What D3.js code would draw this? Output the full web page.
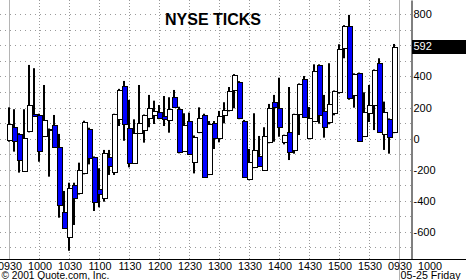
<!DOCTYPE html>
<html><head><meta charset="utf-8">
<script src="https://cdn.jsdelivr.net/npm/d3@7"></script>
<style>
html,body{margin:0;padding:0;background:#fff;}
svg{display:block;font-family:"Liberation Sans",Arial,sans-serif;}
</style></head><body>
<svg id="c" width="466" height="280"></svg>
<script>
const title = "NYSE TICKS";
const times = ["0930","0935","0940","0945","0950","0955","1000","1005","1010","1015","1020","1025","1030","1035","1040","1045","1050","1055","1100","1105","1110","1115","1120","1125","1130","1135","1140","1145","1150","1155","1200","1205","1210","1215","1220","1225","1230","1235","1240","1245","1250","1255","1300","1305","1310","1315","1320","1325","1330","1335","1340","1345","1350","1355","1400","1405","1410","1415","1420","1425","1430","1435","1440","1445","1450","1455","1500","1505","1510","1515","1520","1525","1530","1535","1540","1545","1550","1555"];
const opens = [-9,77,28,-207,49,156,152,17,60,86,-56,-475,-636,-299,-352,-224,62,-120,-326,-384,-120,-217,124,339,66,-155,38,55,131,154,169,144,118,266,189,-78,115,-149,41,152,-228,98,2,150,182,311,362,113,-262,-185,-110,-202,-24,238,199,-20,41,-71,156,382,2,115,472,178,109,163,298,585,723,281,420,19,163,216,485,28,124,41];
const highs = [201,189,35,189,474,453,160,345,65,152,30,-337,-284,-284,-155,115,70,-115,-191,-73,-73,160,320,371,249,124,345,155,281,244,216,274,266,313,205,163,167,20,201,160,113,113,178,234,332,415,370,120,-67,163,17,73,223,281,392,25,332,160,355,403,203,478,478,281,485,310,607,730,796,420,425,298,345,445,517,238,130,609];
const lows = [-20,-84,-219,-207,40,140,-149,10,-245,-60,-509,-580,-722,-556,-360,-230,-166,-466,-442,-406,-234,-234,81,-14,-185,-160,30,-26,73,94,125,81,38,200,-95,-85,-105,-224,35,-250,-235,-67,-24,98,175,195,125,-250,-268,-190,-180,-208,-30,-20,12,-37,-138,-97,23,135,-5,110,96,6,92,150,290,517,250,199,-20,10,107,55,40,-73,-97,35];
const closes = [94,-15,-138,2,216,147,-80,120,55,-56,-430,-574,-320,-384,-202,109,-127,-410,-357,-95,-176,156,313,94,-159,38,98,150,195,180,131,128,189,205,-88,86,-99,12,131,-245,94,2,146,182,305,408,131,-245,-153,-73,-174,17,195,205,73,21,-84,156,350,141,131,435,152,77,221,306,575,723,259,414,-14,174,216,440,44,173,12,592];
const xTickLabels = ["0930","1000","1030","1100","1130","1200","1230","1300","1330","1400","1430","1500","1530","0930","1000"];
const xTickMinutes = [0,30,60,90,120,150,180,210,240,270,300,330,360,390,420];
const yTickValues = [800,600,400,200,0,-200,-400,-600];
const yGridValues = [-700,-600,-500,-400,-300,-200,-100,0,100,200,300,400,500,600,700,800];
const copyright = "\u00A9 2001 Quote.com, Inc.";
const dateLabel = "05-25 Friday";

const W = 466, H = 280, axisX = 411, axisY = 259;
const svg = d3.select("#c");
const toMin = s => (+s.slice(0,2))*60 + (+s.slice(2)) - 570;
const x = d3.scaleLinear().domain([0,390]).range([9.5,399.5]);
const y = d3.scaleLinear().domain([-775,892]).range([axisY,0]);

// horizontal grid
svg.append("g").selectAll("line").data(yGridValues).join("line")
  .attr("x1",0).attr("x2",axisX)
  .attr("y1",d=>Math.round(y(d))+0.5).attr("y2",d=>Math.round(y(d))+0.5)
  .attr("stroke","#9a9a9a").attr("stroke-width",1).attr("stroke-dasharray","1,4");
// vertical grid
svg.append("g").selectAll("line").data(xTickMinutes.filter(m=>m>0 && m<390)).join("line")
  .attr("x1",d=>Math.floor(x(d))+0.5).attr("x2",d=>Math.floor(x(d))+0.5)
  .attr("y1",0).attr("y2",axisY)
  .attr("stroke","#9a9a9a").attr("stroke-width",1).attr("stroke-dasharray","1,2");
// session separators
svg.append("g").selectAll("line").data([0,390]).join("line")
  .attr("x1",d=>Math.floor(x(d))+0.5).attr("x2",d=>Math.floor(x(d))+0.5)
  .attr("y1",0).attr("y2",d=>d===0?axisY:H)
  .attr("stroke","#b4b4b4").attr("stroke-width",1);

const data = times.map((t,i)=>({t:toMin(t),o:opens[i],h:highs[i],l:lows[i],c:closes[i]}));
const g = svg.append("g");
data.forEach(d=>{
  const cx = Math.floor(x(d.t));
  g.append("rect").attr("x",cx-1).attr("width",2)
    .attr("y",y(d.h)).attr("height",Math.max(1,y(d.l)-y(d.h))).attr("fill","#000");
  const top = y(Math.max(d.o,d.c)), bot = y(Math.min(d.o,d.c));
  g.append("rect").attr("x",cx-1.5).attr("width",5)
    .attr("y",Math.round(top)+0.5).attr("height",Math.max(1,Math.round(bot)-Math.round(top)))
    .attr("fill",d.c>=d.o?"#ffffff":"#0000ff").attr("stroke","#000").attr("stroke-width",1);
});

// bottom axis line
svg.append("line").attr("x1",0).attr("x2",W).attr("y1",axisY+0.5).attr("y2",axisY+0.5)
  .attr("stroke","#000").attr("stroke-width",1);
// right axis
const ya = svg.append("g").attr("transform",`translate(${axisX+0.5},0)`)
  .call(d3.axisRight(y).tickValues(yTickValues).tickSize(0).tickPadding(2).tickFormat(d=>String(d)));
ya.select(".domain").attr("stroke","#000");
ya.selectAll("text").attr("font-size","11px").attr("font-family","Liberation Sans, Arial, sans-serif").attr("fill","#000");

const xa = svg.append("g").attr("transform",`translate(0,${axisY+0.5})`)
  .call(d3.axisBottom(x).tickValues(xTickMinutes).tickSize(0).tickPadding(2.5).tickFormat((d,i)=>xTickLabels[i]));
xa.select(".domain").remove();
xa.selectAll("text").attr("font-size","10.8px").attr("font-family","Liberation Sans, Arial, sans-serif").attr("fill","#000");

// last value box
const last = closes[closes.length-1];
svg.append("rect").attr("x",axisX+1).attr("y",Math.round(y(last))-7).attr("width",W-axisX-1).attr("height",14).attr("fill","#000");
svg.append("text").attr("x",axisX+2.5).attr("y",y(last)).attr("dy","0.35em")
  .attr("font-size","11px").attr("fill","#fff").text(String(last));

// title
svg.append("text").attr("x",165).attr("y",25).attr("font-size","16px").attr("font-weight","bold").attr("fill","#000").text(title);
// footer
svg.append("text").attr("x",1.5).attr("y",278.5).attr("font-size","10.2px").attr("fill","#000").text(copyright);
svg.append("text").attr("x",400.5).attr("y",278.5).attr("font-size","10.7px").attr("fill","#000").text(dateLabel);
</script>
</body></html>
